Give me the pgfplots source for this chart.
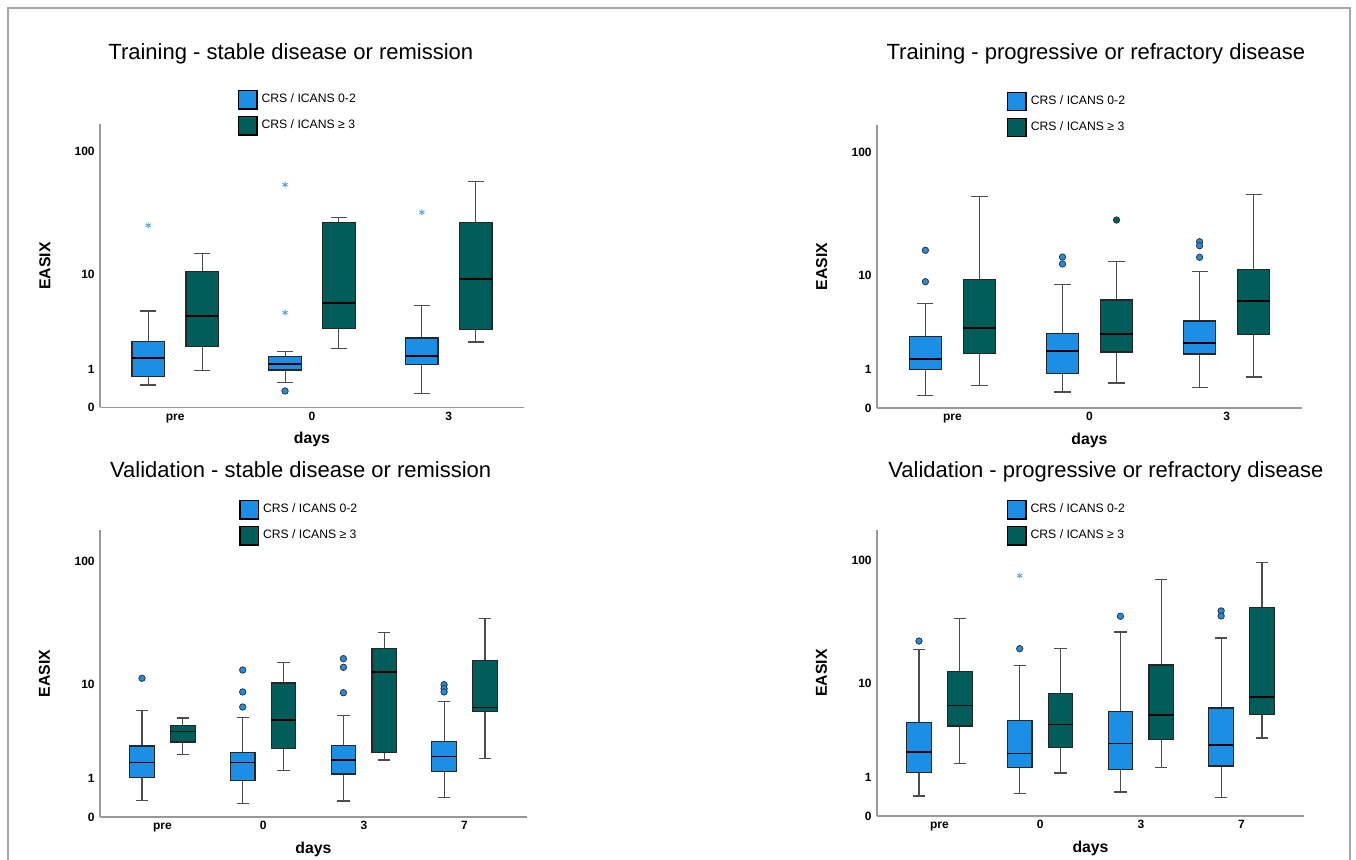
\documentclass[border=0pt]{standalone}
\usepackage{fontspec}
\setmainfont{Liberation Sans}
\usepackage{pgfplots}
\pgfplotsset{compat=1.18}
\usepgfplotslibrary{statistics}
\definecolor{blueC}{HTML}{1B8FE5}
\definecolor{tealC}{HTML}{005D59}
\definecolor{starC}{HTML}{4AA8F0}

\pgfplotsset{
 easix/.style={
  scale only axis, axis x line=bottom, axis y line=left,
  axis line style={-, draw=black!40, line width=0.6pt},
  tick style={draw=none}, major tick length=0pt,
  ymin=0, ytick={0,0.30103,1.04139,2.00432}, yticklabels={0,1,10,100},
  /pgf/number format/assume math mode=true,
  ticklabel style={font=\fontsize{6}{7}\selectfont\bfseries},
  yticklabel style={anchor=east, inner sep=0pt, xshift=-2.5pt},
  xticklabel style={anchor=base, inner sep=0pt, yshift=-6.3pt},
  xlabel=days, ylabel=EASIX,
  label style={font=\fontsize{7.9}{9}\selectfont\bfseries},
  xlabel style={at={(axis description cs:0.5,0)}, anchor=base, yshift=-18.25pt},
  ylabel style={at={(axis description cs:-0.13,0.5)}, anchor=center},
  title style={anchor=base, inner sep=0pt, font=\fontsize{11}{13}\selectfont},
  legend style={draw=none, fill=none, inner sep=0pt, outer sep=0pt, anchor=north west,
    row sep=3.1pt, font=\fontsize{6.1}{7}\selectfont, cells={anchor=west}},
  clip=false,
  boxplot/draw direction=y,
  boxplot/every median/.style={draw=black, line width=0.85pt},
  boxplot/every whisker/.style={draw=black!70, line width=0.55pt},
 },
 circB/.style={only marks, mark=*, mark size=1.6pt, mark options={fill=blueC, draw=black!80, line width=0.4pt}, forget plot},
 circT/.style={only marks, mark=*, mark size=1.6pt, mark options={fill=tealC, draw=black!80, line width=0.4pt}, forget plot},
 starB/.style={only marks, mark=asterisk, mark size=1.5pt, mark options={draw=starC, line width=0.45pt}, forget plot},
}

% draw position, lower whisker, lower quartile, median, upper quartile, upper whisker, fill colour
\newcommand{\bp}[7]{\addplot[boxplot prepared={draw position=#1, lower whisker=#2, lower quartile=#3, median=#4, upper quartile=#5, upper whisker=#6}, fill=#7, draw=black!85, line width=0.6pt, forget plot] coordinates {};}

\newcommand{\leg}{%
 \addlegendimage{legend image code/.code={\draw[fill=blueC,draw=black,line width=0.7pt] (0pt,-4.6pt) rectangle (9.2pt,4.6pt);}}
 \addlegendentry{CRS / ICANS 0-2}
 \addlegendimage{legend image code/.code={\draw[fill=tealC,draw=black,line width=0.7pt] (0pt,-4.6pt) rectangle (9.2pt,4.6pt);}}
 \addlegendentry{CRS / ICANS ≥ 3}}

\begin{document}
\begin{tikzpicture}
\useasboundingbox (0,0) rectangle (678pt,-430pt);
\draw[black!35, line width=0.6pt] (4pt,-431pt) -- (4pt,-4pt) -- (675pt,-4pt) -- (675pt,-431pt);

% ---------------- Training - stable disease or remission
\begin{axis}[easix, at={(50pt,-203.75pt)}, anchor=south west, width=212pt, height=141.5pt,
  xmin=0.45, xmax=3.55, ymax=2.218, xtick={1,2,3}, xticklabels={pre,0,3},
  title={Training - stable disease or remission},
  title style={at={(axis description cs:0.45,1)}, yshift=26.4pt},
  legend style={at={(axis description cs:0.325,1.122)}},
  boxplot/box extend=0.237, boxplot/whisker extend=0.118]
\leg
\bp{0.803}{0.176}{0.245}{0.386}{0.516}{0.756}{blueC}
\bp{1.197}{0.292}{0.477}{0.715}{1.064}{1.205}{tealC}
\bp{1.803}{0.198}{0.294}{0.343}{0.401}{0.437}{blueC}
\bp{2.197}{0.459}{0.621}{0.817}{1.451}{1.488}{tealC}
\bp{2.803}{0.108}{0.336}{0.401}{0.545}{0.801}{blueC}
\bp{3.197}{0.513}{0.613}{1.005}{1.451}{1.770}{tealC}
\addplot[starB] coordinates {(0.803,1.428) (1.803,1.746) (1.803,0.743) (2.803,1.530)};
\addplot[circB] coordinates {(1.803,0.129)};
\end{axis}

% ---------------- Training - progressive or refractory disease
\begin{axis}[easix, at={(438.5pt,-204pt)}, anchor=south west, width=212.5pt, height=141.5pt,
  xmin=0.45, xmax=3.55, ymax=2.218, xtick={1,2,3}, xticklabels={pre,0,3},
  title={Training - progressive or refractory disease},
  title style={at={(axis description cs:0.515,1)}, yshift=26.6pt},
  legend style={at={(axis description cs:0.306,1.118)}},
  boxplot/box extend=0.237, boxplot/whisker extend=0.118]
\leg
\bp{0.803}{0.096}{0.300}{0.382}{0.562}{0.821}{blueC}
\bp{1.197}{0.175}{0.429}{0.627}{1.005}{1.656}{tealC}
\bp{1.803}{0.125}{0.272}{0.449}{0.582}{0.966}{blueC}
\bp{2.197}{0.196}{0.439}{0.578}{0.846}{1.147}{tealC}
\bp{2.803}{0.159}{0.423}{0.509}{0.682}{1.068}{blueC}
\bp{3.197}{0.243}{0.578}{0.841}{1.084}{1.672}{tealC}
\addplot[circB] coordinates {(0.803,1.236) (0.803,0.990) (1.803,1.183) (1.803,1.129)
  (2.803,1.303) (2.803,1.272) (2.803,1.181)};
\addplot[circT] coordinates {(2.197,1.473)};
\end{axis}

% ---------------- Validation - stable disease or remission
\begin{axis}[easix, at={(50pt,-408.5pt)}, anchor=south west, width=213.5pt, height=143.5pt,
  xmin=0.38, xmax=4.62, ymax=2.249, xtick={1,2,3,4}, xticklabels={pre,0,3,7},
  title={Validation - stable disease or remission},
  title style={at={(axis description cs:0.47,1)}, yshift=20pt},
  legend style={at={(axis description cs:0.326,1.1045)}},
  boxplot/box extend=0.243, boxplot/whisker extend=0.122]
\leg
\bp{0.797}{0.131}{0.308}{0.426}{0.556}{0.833}{blueC}
\bp{1.203}{0.491}{0.588}{0.671}{0.718}{0.776}{tealC}
\bp{1.797}{0.104}{0.285}{0.428}{0.504}{0.778}{blueC}
\bp{2.203}{0.363}{0.536}{0.760}{1.050}{1.210}{tealC}
\bp{2.797}{0.125}{0.337}{0.444}{0.562}{0.794}{blueC}
\bp{3.203}{0.447}{0.507}{1.134}{1.322}{1.447}{tealC}
\bp{3.797}{0.154}{0.355}{0.475}{0.593}{0.906}{blueC}
\bp{4.203}{0.457}{0.828}{0.859}{1.225}{1.557}{tealC}
\addplot[circB] coordinates {(0.797,1.087) (1.797,1.152) (1.797,0.980) (1.797,0.862)
  (2.797,1.241) (2.797,1.173) (2.797,0.974) (3.797,1.037) (3.797,1.006) (3.797,0.980)};
\end{axis}

% ---------------- Validation - progressive or refractory disease
\begin{axis}[easix, at={(438.5pt,-408pt)}, anchor=south west, width=213.5pt, height=143pt,
  xmin=0.38, xmax=4.62, ymax=2.241, xtick={1,2,3,4}, xticklabels={pre,0,3,7},
  title={Validation - progressive or refractory disease},
  title style={at={(axis description cs:0.536,1)}, yshift=20pt},
  legend style={at={(axis description cs:0.304,1.1049)}},
  boxplot/box extend=0.243, boxplot/whisker extend=0.122]
\leg
\bp{0.797}{0.157}{0.340}{0.502}{0.731}{1.306}{blueC}
\bp{1.203}{0.413}{0.705}{0.865}{1.134}{1.547}{tealC}
\bp{1.797}{0.178}{0.381}{0.489}{0.747}{1.176}{blueC}
\bp{2.203}{0.337}{0.536}{0.716}{0.961}{1.311}{tealC}
\bp{2.797}{0.188}{0.366}{0.567}{0.818}{1.442}{blueC}
\bp{3.203}{0.379}{0.598}{0.794}{1.183}{1.852}{tealC}
\bp{3.797}{0.146}{0.392}{0.554}{0.846}{1.395}{blueC}
\bp{4.203}{0.611}{0.797}{0.930}{1.633}{1.983}{tealC}
\addplot[circB] coordinates {(0.797,1.371) (1.797,1.311) (2.797,1.565) (3.797,1.607) (3.797,1.567)};
\addplot[starB] coordinates {(1.797,1.883)};
\end{axis}
\end{tikzpicture}
\end{document}
